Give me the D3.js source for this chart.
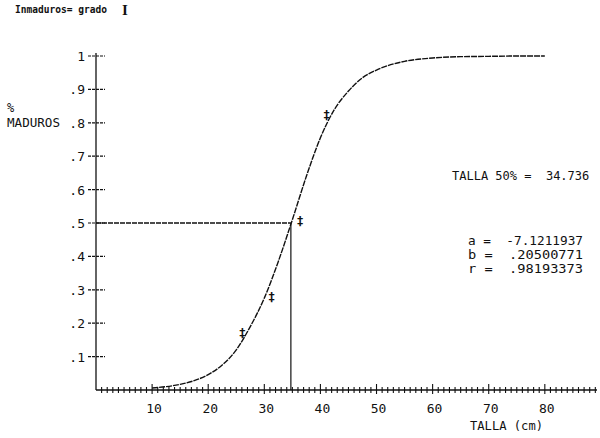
<!DOCTYPE html>
<html>
<head>
<meta charset="utf-8">
<script src="https://cdn.jsdelivr.net/npm/d3@7"></script>
<style>
  body { margin: 0; background: #fff; }
  text { font-family: "DejaVu Sans Mono", monospace; fill: #111; white-space: pre; }
</style>
</head>
<body>
<div class="graph"></div>
<script>
  // curve (talla cm -> proporcion madura)
  const curveTalla = [10, 12.5, 15, 17.5, 20, 22.5, 25, 27.5, 30, 32.5, 35, 37.5, 40, 42.5, 45, 47.5, 50, 55, 60, 65, 70, 75, 80];
  const curveProp  = [0.006, 0.010, 0.017, 0.028, 0.046, 0.075, 0.12, 0.19, 0.275, 0.385, 0.51, 0.64, 0.755, 0.84, 0.895, 0.935, 0.958, 0.984, 0.994, 0.998, 0.999, 1.0, 1.0];

  // observed points (asterisks)
  const obsTalla = [26.1, 31.3, 36.4, 41.1];
  const obsProp  = [0.174, 0.281, 0.508, 0.825];

  const talla50 = 34.736;
  const yTicks = [0.1, 0.2, 0.3, 0.4, 0.5, 0.6, 0.7, 0.8, 0.9, 1];
  const yTickLabels = ['.1', '.2', '.3', '.4', '.5', '.6', '.7', '.8', '.9', '1'];
  const xMajor = [10, 20, 30, 40, 50, 60, 70, 80];
  const paramLines = ['a =  -7.1211937', 'b =  .20500771', 'r =  .98193373'];

  const W = 600, H = 438;
  const margin = { top: 56, left: 96, bottom: 48, right: 3 };

  const xScale = d3.scaleLinear()
    .domain([0, 89.3])
    .range([margin.left, W - margin.right]);

  const yScale = d3.scaleLinear()
    .domain([0, 1])
    .range([H - margin.bottom, margin.top]);

  const svg = d3.select('.graph')
    .append('svg')
    .attr('width', W)
    .attr('height', H);

  const ink = '#111';

  // title
  svg.append('text')
    .attr('x', 15).attr('y', 13)
    .style('font-size', '10px')
    .style('font-weight', 'bold')
    .attr('textLength', 92)
    .attr('lengthAdjust', 'spacingAndGlyphs')
    .text('Inmaduros= grado');
  svg.append('text')
    .attr('x', 122).attr('y', 15)
    .style('font-family', '"Liberation Serif", serif')
    .style('font-size', '15px')
    .style('font-weight', 'bold')
    .text('I');

  // axes lines
  svg.append('line')
    .attr('x1', xScale(0)).attr('x2', xScale(0))
    .attr('y1', yScale(1) - 3).attr('y2', yScale(0))
    .attr('stroke', ink).attr('stroke-width', 1.3);
  svg.append('line')
    .attr('x1', xScale(0)).attr('x2', xScale(89.3))
    .attr('y1', yScale(0)).attr('y2', yScale(0))
    .attr('stroke', ink).attr('stroke-width', 1.3);

  // y ticks (cross the axis)
  svg.selectAll('.ytick')
    .data(yTicks)
    .enter().append('line')
    .attr('class', 'ytick')
    .attr('x1', xScale(0) - 8).attr('x2', xScale(0) + 9)
    .attr('y1', d => yScale(d)).attr('y2', d => yScale(d))
    .attr('stroke', ink).attr('stroke-width', 1.2)
    .attr('stroke-dasharray', '3,1');

  svg.selectAll('.ylab')
    .data(yTicks)
    .enter().append('text')
    .attr('class', 'ylab')
    .attr('x', xScale(0) - 11)
    .attr('y', d => yScale(d) + 5)
    .attr('text-anchor', 'end')
    .style('font-size', '13px')
    .text((d, i) => yTickLabels[i]);

  // x ticks: one per cm, larger at tens
  const xMinor = d3.range(1, 90);
  svg.selectAll('.xtick')
    .data(xMinor)
    .enter().append('line')
    .attr('class', 'xtick')
    .attr('x1', d => xScale(d)).attr('x2', d => xScale(d))
    .attr('y1', d => yScale(0) - (d % 10 === 0 ? 6 : 3))
    .attr('y2', d => yScale(0) + (d % 10 === 0 ? 4 : 3))
    .attr('stroke', ink).attr('stroke-width', 1.1);

  svg.selectAll('.xlab')
    .data(xMajor)
    .enter().append('text')
    .attr('class', 'xlab')
    .attr('x', d => xScale(d) + 2)
    .attr('y', yScale(0) + 23)
    .attr('text-anchor', 'middle')
    .style('font-size', '13px')
    .text(d => d);

  // axis titles
  svg.append('text')
    .attr('x', 470).attr('y', 430)
    .style('font-size', '13px')
    .attr('textLength', 73)
    .attr('lengthAdjust', 'spacingAndGlyphs')
    .text('TALLA (cm)');
  svg.append('text')
    .attr('x', 7).attr('y', 112)
    .style('font-size', '12px')
    .text('%');
  svg.append('text')
    .attr('x', 7).attr('y', 127)
    .style('font-size', '13px')
    .attr('textLength', 53)
    .attr('lengthAdjust', 'spacingAndGlyphs')
    .text('MADUROS');

  // 50% guide lines
  svg.append('line')
    .attr('x1', xScale(0)).attr('x2', xScale(talla50))
    .attr('y1', yScale(0.5)).attr('y2', yScale(0.5))
    .attr('stroke', ink).attr('stroke-width', 1.3)
    .attr('stroke-dasharray', '5,1');
  svg.append('line')
    .attr('x1', xScale(talla50)).attr('x2', xScale(talla50))
    .attr('y1', yScale(0.5)).attr('y2', yScale(0))
    .attr('stroke', ink).attr('stroke-width', 1.2);

  // fitted curve
  const curveData = curveTalla.map((t, i) => ({ t: t, p: curveProp[i] }));
  const line = d3.line()
    .x(d => xScale(d.t))
    .y(d => yScale(d.p))
    .curve(d3.curveMonotoneX);

  svg.append('path')
    .datum(curveData)
    .attr('d', line)
    .attr('fill', 'none')
    .attr('stroke', ink)
    .attr('stroke-width', 1.4)
    .attr('stroke-dasharray', '6,1');

  // observed points
  svg.selectAll('.obs')
    .data(obsTalla)
    .enter().append('text')
    .attr('class', 'obs')
    .attr('x', d => xScale(d))
    .attr('y', (d, i) => yScale(obsProp[i]) + 5)
    .attr('text-anchor', 'middle')
    .style('font-size', '12px')
    .style('font-weight', 'bold')
    .text('\u2021');

  // results text
  svg.append('text')
    .attr('x', 452).attr('y', 180)
    .style('font-size', '12px')
    .text('TALLA 50% =  ' + talla50);

  svg.selectAll('.param')
    .data(paramLines)
    .enter().append('text')
    .attr('class', 'param')
    .attr('x', 468)
    .attr('y', (d, i) => 245 + i * 14)
    .style('font-size', '13px')
    .attr('textLength', 115)
    .attr('lengthAdjust', 'spacingAndGlyphs')
    .text(d => d);
</script>
</body>
</html>
